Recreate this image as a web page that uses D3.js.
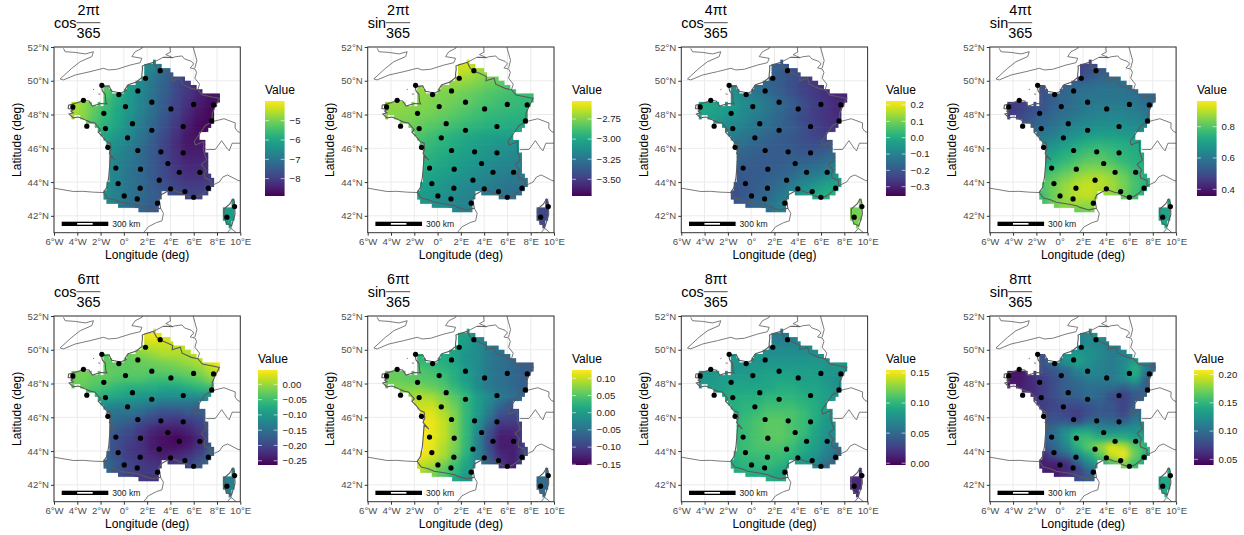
<!DOCTYPE html>
<html>
<head>
<meta charset="utf-8">
<script src="https://cdn.jsdelivr.net/npm/d3@7"></script>
<style>
  html, body { margin: 0; background: #fff; }
  text { font-family: "Liberation Sans", Arial, sans-serif; }
</style>
</head>
<body>
<svg id="chart" width="1244" height="535"></svg>
<script>
const titleFunc = ["cos", "sin", "cos", "sin", "cos", "sin", "cos", "sin"];
const titleNum = ["2πt", "2πt", "4πt", "4πt", "6πt", "6πt", "8πt", "8πt"];
const lonTicks = [-6, -4, -2, 0, 2, 4, 6, 8, 10];
const latTicks = [42, 44, 46, 48, 50, 52];

// value grid: 1 deg wide, 0.5 deg high cells, north to south
const rowTopLat = [51.5, 51, 50.5, 50, 49.5, 49, 48.5, 48, 47.5, 47, 46.5, 46, 45.5, 45, 44.5, 44, 43.5, 43, 42.5];
const rowWestLon = [2, 1, 1, -2, -2, -5, -5, -5, -3, -2, -2, -2, -2, -2, -2, -2, -2, -2, 1];

const cos2 = [
  [-6.5],
  [-6.4,-6.7,-7.2,-7.6],
  [-6.5,-6.9,-7.3,-7.7,-8.0],
  [-5.2,-5.7,-6.2,-6.6,-7.0,-7.4,-7.8,-8.1,-8.4],
  [-5.3,-5.8,-6.2,-6.6,-7.0,-7.4,-7.8,-8.1,-8.4,-8.6,-8.6],
  [-4.5,-4.8,-5.2,-5.5,-5.9,-6.3,-6.7,-7.1,-7.5,-7.9,-8.2,-8.5,-8.7,-8.7],
  [-4.5,-4.8,-5.2,-5.6,-6.0,-6.3,-6.7,-7.1,-7.5,-7.9,-8.3,-8.6,-8.8],
  [-4.6,-4.9,-5.3,-5.7,-6.0,-6.4,-6.8,-7.2,-7.6,-8.0,-8.4,-8.7,-8.8],
  [-5.5,-5.8,-6.1,-6.5,-6.9,-7.3,-7.7,-8.1,-8.5,-8.8,-8.8],
  [-6.0,-6.3,-6.6,-7.0,-7.4,-7.8,-8.2,-8.6,-8.7],
  [-6.2,-6.5,-6.8,-7.1,-7.5,-7.9,-8.3,-8.6,-8.6,-8.5],
  [-6.3,-6.6,-6.9,-7.2,-7.5,-7.9,-8.2,-8.5,-8.5,-8.4],
  [-6.4,-6.7,-6.9,-7.2,-7.5,-7.8,-8.2,-8.4,-8.4,-8.3],
  [-6.5,-6.7,-7.0,-7.2,-7.5,-7.8,-8.1,-8.3,-8.3,-8.2],
  [-6.5,-6.7,-7.0,-7.2,-7.5,-7.8,-8.0,-8.2,-8.2,-8.1],
  [-6.5,-6.8,-7.0,-7.2,-7.5,-7.7,-7.9,-8.0,-8.0,-7.9],
  [-6.5,-6.8,-7.0,-7.2,-7.4,-7.6,-7.8,-7.9,-7.9,-7.8],
  [-6.6,-6.9,-7.1,-7.3,-7.5],
  [-7.3,-7.5]
];
const sin2 = [
  [-2.58],
  [-2.62,-2.62,-2.68,-2.72],
  [-2.65,-2.68,-2.72,-2.76,-2.80],
  [-2.70,-2.72,-2.72,-2.72,-2.74,-2.77,-2.80,-2.83,-2.86],
  [-2.72,-2.74,-2.76,-2.77,-2.79,-2.82,-2.85,-2.87,-2.89,-2.90,-2.90],
  [-2.72,-2.72,-2.72,-2.74,-2.76,-2.77,-2.79,-2.81,-2.84,-2.87,-2.89,-2.91,-2.92,-2.92],
  [-2.72,-2.73,-2.74,-2.75,-2.77,-2.79,-2.82,-2.85,-2.88,-2.90,-2.92,-2.93,-2.94],
  [-2.74,-2.75,-2.76,-2.78,-2.80,-2.82,-2.85,-2.88,-2.91,-2.93,-2.95,-2.96,-2.96],
  [-2.79,-2.81,-2.84,-2.87,-2.90,-2.93,-2.95,-2.97,-2.98,-2.99,-3.00],
  [-2.86,-2.89,-2.92,-2.96,-2.99,-3.01,-3.03,-3.04,-3.05],
  [-2.89,-2.92,-2.96,-2.99,-3.02,-3.05,-3.07,-3.09,-3.10,-3.12],
  [-2.91,-2.95,-2.98,-3.01,-3.04,-3.07,-3.10,-3.12,-3.14,-3.15],
  [-2.94,-2.97,-3.00,-3.03,-3.06,-3.09,-3.12,-3.15,-3.17,-3.18],
  [-2.97,-3.00,-3.03,-3.06,-3.09,-3.12,-3.15,-3.18,-3.20,-3.21],
  [-3.00,-3.03,-3.06,-3.09,-3.12,-3.15,-3.18,-3.21,-3.23,-3.24],
  [-3.03,-3.06,-3.09,-3.12,-3.15,-3.18,-3.21,-3.24,-3.26,-3.27],
  [-3.06,-3.08,-3.11,-3.14,-3.17,-3.20,-3.23,-3.26,-3.28,-3.29],
  [-3.09,-3.11,-3.13,-3.16,-3.19],
  [-3.17,-3.19]
];
const cos4 = [
  [-.19],
  [-.17,-.19,-.21,-.23],
  [-.17,-.19,-.21,-.24,-.26],
  [-.07,-.10,-.14,-.17,-.19,-.21,-.24,-.26,-.28],
  [-.07,-.10,-.13,-.16,-.18,-.21,-.24,-.26,-.28,-.30,-.30],
  [-.01,-.02,-.03,-.05,-.08,-.10,-.13,-.16,-.19,-.22,-.25,-.27,-.29,-.30],
  [-.01,-.02,-.03,-.05,-.08,-.10,-.13,-.16,-.19,-.22,-.25,-.27,-.29],
  [-.02,-.03,-.05,-.07,-.09,-.12,-.14,-.17,-.20,-.23,-.25,-.27,-.28],
  [-.07,-.09,-.11,-.13,-.15,-.17,-.19,-.21,-.24,-.26,-.27],
  [-.11,-.13,-.15,-.17,-.19,-.20,-.22,-.24,-.25],
  [-.13,-.15,-.17,-.18,-.19,-.20,-.21,-.22,-.21,-.20],
  [-.15,-.17,-.18,-.19,-.19,-.19,-.20,-.20,-.18,-.16],
  [-.17,-.18,-.19,-.19,-.19,-.18,-.18,-.17,-.15,-.13],
  [-.19,-.19,-.19,-.19,-.18,-.17,-.15,-.14,-.12,-.10],
  [-.20,-.20,-.19,-.18,-.17,-.15,-.12,-.10,-.07,-.05],
  [-.21,-.20,-.19,-.17,-.15,-.12,-.08,-.05,-.02,-.01],
  [-.22,-.20,-.18,-.16,-.13,-.09,-.05,-.01,.01,.00],
  [-.20,-.18,-.16,-.14,-.11],
  [-.14,-.10]
];
const sin4 = [
  [.46],
  [.47,.50,.52,.55],
  [.49,.52,.54,.56,.57],
  [.50,.53,.54,.56,.57,.58,.58,.58,.57],
  [.51,.54,.56,.58,.59,.59,.59,.59,.58,.56,.55],
  [.46,.47,.49,.51,.54,.56,.58,.60,.60,.60,.60,.59,.57,.55],
  [.46,.47,.50,.52,.55,.57,.59,.61,.62,.62,.62,.61,.59],
  [.47,.49,.52,.55,.57,.59,.61,.63,.64,.64,.64,.63,.61],
  [.54,.57,.59,.62,.64,.65,.66,.66,.66,.65,.64],
  [.60,.62,.65,.67,.69,.70,.70,.69,.68],
  [.64,.66,.69,.72,.74,.75,.74,.73,.72,.71],
  [.68,.70,.73,.76,.78,.79,.77,.75,.73,.72],
  [.71,.73,.76,.79,.81,.81,.79,.76,.74,.72],
  [.75,.77,.80,.83,.85,.85,.83,.80,.76,.73],
  [.78,.81,.84,.87,.89,.89,.87,.83,.78,.74],
  [.80,.83,.87,.90,.91,.90,.88,.84,.79,.74],
  [.78,.83,.87,.90,.91,.88,.86,.82,.78,.72],
  [.77,.83,.86,.88,.87],
  [.82,.84]
];
const cos6 = [
  [.04],
  [.03,.04,.03,.025],
  [.01,.02,.02,.02,.02],
  [-.03,-.03,-.02,-.01,.00,.01,.01,.01,.02],
  [-.03,-.03,-.03,-.025,-.02,-.015,-.01,.00,.01,.03,.045],
  [-.02,-.02,-.02,-.025,-.03,-.03,-.03,-.03,-.03,-.025,-.02,-.01,.01,.03],
  [-.02,-.02,-.03,-.03,-.04,-.04,-.04,-.05,-.05,-.05,-.04,-.03,-.01],
  [-.03,-.03,-.04,-.05,-.06,-.07,-.07,-.07,-.08,-.08,-.07,-.06,-.05],
  [-.06,-.07,-.08,-.09,-.10,-.10,-.11,-.11,-.11,-.11,-.11],
  [-.11,-.12,-.12,-.13,-.14,-.15,-.15,-.15,-.16],
  [-.14,-.15,-.15,-.16,-.18,-.19,-.19,-.18,-.18,-.16],
  [-.15,-.16,-.17,-.19,-.20,-.21,-.22,-.21,-.20,-.17],
  [-.16,-.18,-.19,-.21,-.23,-.24,-.24,-.23,-.21,-.18],
  [-.17,-.19,-.20,-.22,-.24,-.25,-.26,-.25,-.23,-.19],
  [-.18,-.19,-.21,-.22,-.24,-.25,-.25,-.24,-.22,-.18],
  [-.17,-.19,-.21,-.22,-.23,-.24,-.23,-.22,-.20,-.16],
  [-.16,-.18,-.20,-.21,-.22,-.22,-.21,-.20,-.18,-.15],
  [-.16,-.19,-.20,-.21,-.21],
  [-.21,-.22]
];
const sin6 = [
  [.02],
  [.01,.00,-.03,-.04],
  [.01,.00,-.02,-.04,-.05],
  [.03,.03,.02,.01,-.01,-.02,-.04,-.05,-.06],
  [.03,.03,.02,.01,-.01,-.02,-.04,-.05,-.06,-.07,-.07],
  [.06,.06,.055,.05,.04,.03,.02,.00,-.02,-.04,-.05,-.06,-.07,-.07],
  [.06,.06,.055,.05,.05,.04,.02,.00,-.02,-.04,-.05,-.06,-.07],
  [.065,.07,.07,.07,.06,.05,.03,.01,-.02,-.04,-.05,-.06,-.07],
  [.08,.09,.085,.07,.05,.03,.00,-.02,-.04,-.05,-.06],
  [.10,.10,.08,.06,.03,.00,-.03,-.06,-.08],
  [.11,.11,.09,.07,.03,.00,-.04,-.08,-.09,-.08],
  [.12,.115,.10,.07,.03,-.01,-.06,-.10,-.10,-.09],
  [.122,.115,.10,.07,.03,-.02,-.08,-.12,-.12,-.10],
  [.122,.115,.10,.07,.03,-.03,-.09,-.13,-.13,-.10],
  [.122,.115,.09,.07,.03,-.03,-.09,-.13,-.13,-.10],
  [.12,.11,.09,.06,.02,-.03,-.08,-.12,-.13,-.09],
  [.10,.09,.07,.04,.01,-.03,-.07,-.11,-.13,-.08],
  [.09,.07,.05,.03,.00],
  [.01,-.01]
];
const cos8 = [
  [.06],
  [.06,.06,.06,.065],
  [.07,.07,.07,.07,.07],
  [.08,.08,.08,.075,.075,.075,.075,.075,.075],
  [.08,.08,.08,.08,.08,.08,.08,.08,.08,.08,.075],
  [.08,.08,.08,.08,.08,.085,.085,.085,.085,.085,.085,.08,.08,.075],
  [.08,.08,.085,.085,.085,.085,.09,.09,.09,.085,.085,.08,.075],
  [.08,.085,.085,.09,.09,.09,.09,.095,.095,.09,.09,.085,.075],
  [.09,.095,.095,.095,.10,.10,.10,.095,.09,.085,.075],
  [.095,.10,.10,.105,.105,.105,.10,.095,.085],
  [.095,.10,.105,.11,.11,.11,.105,.095,.085,.075],
  [.10,.105,.11,.115,.115,.11,.105,.095,.08,.075],
  [.10,.105,.11,.115,.115,.11,.105,.09,.08,.07],
  [.10,.105,.11,.115,.115,.11,.10,.09,.075,.065],
  [.10,.105,.11,.11,.11,.105,.095,.085,.07,.055],
  [.10,.105,.105,.105,.105,.10,.09,.08,.065,.05],
  [.095,.10,.10,.105,.10,.09,.08,.07,.055,.045],
  [.095,.095,.095,.095,.09],
  [.095,.09]
];
const sin8 = [
  [.12],
  [.11,.12,.12,.11],
  [.115,.12,.115,.11,.11],
  [.08,.10,.125,.13,.125,.12,.11,.115,.115],
  [.085,.10,.125,.135,.125,.115,.11,.12,.135,.11,.08],
  [.05,.05,.06,.08,.085,.095,.115,.12,.115,.11,.12,.145,.11,.085],
  [.05,.05,.06,.07,.08,.09,.10,.11,.11,.11,.12,.135,.09],
  [.055,.055,.06,.07,.08,.09,.095,.10,.10,.10,.09,.10,.09],
  [.06,.07,.08,.09,.09,.10,.095,.08,.07,.085,.095],
  [.07,.075,.08,.08,.085,.09,.085,.075,.09],
  [.075,.08,.075,.07,.08,.085,.085,.075,.095,.105],
  [.08,.085,.085,.075,.095,.10,.095,.09,.11,.115],
  [.09,.10,.12,.135,.135,.12,.12,.125,.125,.125],
  [.09,.10,.125,.155,.155,.145,.145,.145,.135,.14],
  [.08,.095,.115,.145,.165,.18,.20,.19,.165,.15],
  [.06,.08,.095,.12,.14,.165,.195,.205,.17,.145],
  [.055,.055,.06,.085,.12,.135,.16,.175,.155,.14],
  [.055,.05,.06,.07,.09],
  [.08,.09]
];
const grids = [cos2, sin2, cos4, sin4, cos6, sin6, cos8, sin8];

// Corsica is read separately, same value north and south on most panels
const corsicaValues = [-6.2, -3.45, .105, .71, -.13, -.055, .015, .14];

const legendDomains = [
  [-8.9, -3.98], [-3.708, -2.526], [-.357, .2245], [.357, .964],
  [-.264, .047], [-.152, .124], [-.003, .155], [.04, .208]
];
const legendTicks = [
  [-8, -7, -6, -5],
  [-3.5, -3.25, -3, -2.75],
  [-.3, -.2, -.1, 0, .1, .2],
  [.4, .6, .8],
  [-.25, -.2, -.15, -.1, -.05, 0],
  [-.15, -.1, -.05, 0, .05, .1],
  [0, .05, .1, .15],
  [.05, .1, .15, .2]
];
const legendFormats = ["d", ".2f", ".1f", ".1f", ".2f", ".2f", ".2f", ".2f"];

// land mask at 0.25 deg: [north edge, west, east]
const maskRuns = [
  [51.25,2.5,2.75],[51,1.75,3.25],[50.75,1.75,4],[50.5,1.75,4.25],[50.25,1.5,5.25],[50,1,5.75],
  [49.75,-1.75,-1.25],[49.75,.25,6.25],[49.5,-1.75,-1],[49.5,0,6.75],[49.25,-1.75,8.25],[49,-1.75,8.25],
  [48.75,-4.5,-2.75],[48.75,-2.25,-2],[48.75,-1.75,8],[48.5,-4.5,7.75],[48.25,-4.5,7.75],
  [48,-4.5,-4.25],[48,-3.75,7.75],[47.75,-3.25,7.75],[47.5,-2.5,7.5],[47.25,-2.25,7.25],[47,-2,6.5],
  [46.75,-1.75,6.5],[46.5,-1.5,7],[46.25,-1.25,7],[46,-1.25,7],[45.75,-1.25,7.25],[45.5,-1.25,7.25],
  [45.25,-1.25,7.25],[45,-1.25,7.25],[44.75,-1.25,7.25],[44.5,-1.25,7.5],[44.25,-1.25,7.75],
  [44,-1.5,7.75],[43.75,-1.5,7.5],[43.5,-1.75,3.25],[43.5,3.75,7.25],[43.25,-1.75,3.25],[43.25,5.25,6.75],
  [43,-1.5,3],[42.75,-.5,3],[42.5,1.25,3],
  [43,9.25,9.5],[42.75,9.25,9.5],[42.5,8.5,9.5],[42.25,8.5,9.5],[42,8.5,9.5],[41.75,8.75,9.25],[41.5,9,9.25]
];

// weather stations [lon, lat]
const stations = [
  [-1.89,49.73],[-3.47,48.84],[-4.38,48.45],[-3.18,47.31],[-1.72,48.07],[-1.58,47.17],[-1.38,46.06],
  [-.69,44.83],[-.49,43.91],[.03,43.18],[1.15,43],[2.89,42.75],[1.4,43.64],[1.43,44.76],[3.04,44.11],
  [4.01,43.6],[5.24,43.44],[5.99,43.1],[7.25,43.64],[6.53,44.58],[4.76,44.58],[3.78,45.1],[3.18,45.79],
  [5.1,45.73],[1.2,45.87],[.32,46.62],[2.4,47.07],[.74,47.46],[.14,48.47],[-.43,49.18],[1.2,49.4],
  [1.86,50.15],[3.12,50.6],[2.4,48.73],[4.04,48.33],[5.99,48.6],[7.7,48.57],[7.54,47.62],[5.1,47.29],
  [9.51,42.55],[8.85,41.92]
];

// map outlines [lon, lat]
const franceLine = [
  [2.55,51.09],[1.85,50.95],[1.58,50.87],[1.6,50.7],[1.55,50.4],[1.55,50.2],[1.08,49.93],[.37,49.77],[.1,49.5],
  [.2,49.42],[-.25,49.28],[-1.05,49.38],[-1.27,49.7],[-1.6,49.65],[-1.93,49.72],[-1.85,49.4],[-1.6,49.2],
  [-1.55,48.75],[-1.45,48.63],[-2,48.65],[-2.7,48.5],[-3,48.8],[-3.5,48.83],[-4,48.7],[-4.75,48.55],[-4.78,48.35],
  [-4.3,48.3],[-4.55,48.2],[-4.35,48.1],[-4.7,48.03],[-4.35,47.8],[-3.9,47.85],[-3.4,47.7],[-2.9,47.55],[-2.5,47.5],
  [-2.2,47.25],[-2,47.1],[-2.2,46.95],[-1.85,46.7],[-1.5,46.4],[-1.15,46.3],[-1.1,45.95],[-1.25,45.7],[-.75,45.3],
  [-1.15,45.55],[-1.25,44.7],[-1.3,44.3],[-1.45,43.7],[-1.75,43.38],[-1.4,43.05],[-.8,42.95],[-.3,42.8],[.7,42.7],
  [1.45,42.6],[1.75,42.5],[2.5,42.35],[3.15,42.45],[3.03,43],[3.2,43.25],[3.75,43.45],[4.1,43.55],[4.7,43.4],
  [5.05,43.35],[5.35,43.2],[5.95,43.08],[6.4,43.15],[6.9,43.4],[7.25,43.65],[7.5,43.78],[7.5,44.1],[6.95,44.25],
  [6.9,44.5],[7.05,44.7],[6.65,45.05],[7.1,45.3],[6.85,45.85],[6.85,46.4],[6.15,46.2],[6.05,46.4],[6.45,46.8],
  [7,47.35],[7.55,47.55],[7.6,48.1],[8.2,48.95],[7.5,49.05],[6.75,49.15],[6.35,49.47],[5.8,49.55],[5,49.8],
  [4.85,50.15],[4.15,50],[4.2,50.25],[3.6,50.45],[3.2,50.55],[2.8,50.75],[2.55,51.09]
];
const corsicaLine = [[9.4,43],[9.5,42.8],[9.55,42.1],[9.25,41.4],[8.8,41.55],[8.6,42],[8.6,42.4],[9.1,42.7],[9.35,43],[9.4,43]];
const neighbourLines = [
  // Wales and south England
  [[-5.19,51.92],[-5.04,51.72],[-4.18,51.68],[-3.32,51.59],[-2.61,51.72],[-2.75,51.43],[-3.75,51.13],[-4.47,50.74],
   [-5.47,50.11],[-5.19,50.05],[-4.18,50.34],[-2.9,50.54],[-1.75,50.74],[-1.32,50.64],[-.6,50.68],[.54,50.93],
   [1.4,51.07],[1.55,51.33],[.69,51.43],[.97,51.72],[1.55,51.92],[1.63,52.05]],
  // Belgium and Netherlands coast
  [[2.55,51.09],[3.35,51.38],[3.5,51.4],[4.2,51.37],[3.6,51.55],[4,51.7],[3.95,52.05]],
  [[3.35,51.38],[4.2,51.37],[4.4,51.42],[5,51.47],[5.2,51.3],[5.8,51.15],[6,51],[5.7,50.76],[6.1,50.7],[6.25,50.5],
   [6.1,50.15],[6.5,49.8],[6.35,49.47]],
  [[5.93,52.05],[6.27,51.2],[6.1,50.75]],
  // Rhine, Switzerland and Italy
  [[7.55,47.57],[8.6,47.75],[9.57,47.5],[9.55,47.2],[9.77,47],[10.1,46.9]],
  [[7.05,45.92],[7.85,45.93],[8.4,46.45],[8.85,46],[9.05,45.85],[9.3,46.3],[10.1,46.3]],
  [[7.5,43.78],[8.2,44],[8.5,44.3],[8.9,44.42],[9.8,44.1],[10.1,44.05]],
  [[8.15,40.9],[8.45,41],[8.8,40.93],[9.2,41.25],[9.5,41.1],[9.75,40.9]],
  // Spain
  [[-6.1,43.65],[-4.33,43.44],[-3.5,43.45],[-2.6,43.4],[-1.75,43.38]],
  [[3.15,42.45],[3.4,42.15],[3.27,41.7],[2.8,41.6],[2.1,41.35],[1.7,41],[1.6,40.9]],
  // small islands
  [[-2.65,49.47],[-2.55,49.5]],[[-2.2,49.22],[-2.02,49.2]],[[-1.55,46.22],[-1.3,46.15]],[[-1.4,46],[-1.2,45.83]]
];

const svg = d3.select("#chart");
const panelLefts = [54, 367.7, 681.3, 989.8];
const legendLefts = [[265, 572, 886, 1197], [258, 572, 886, 1194]];
const rowOffset = 269;
const panelW = 186.3;
const panelH = 185.7;
const panelTop = 47;

function drawPanel(i) {
  const col = i % 4;
  const row = Math.floor(i / 4);
  const left = panelLefts[col];
  const top = panelTop + row * rowOffset;

  const g = svg.append("g").attr("transform", `translate(${left},${top})`);
  const x = d3.scaleLinear().domain([-6, 10]).range([0, panelW]);
  const y = d3.scaleLinear().domain([41, 52]).range([panelH, 0]);
  const color = d3.scaleSequential(d3.interpolateViridis).domain(legendDomains[i]);

  const defs = g.append("defs");
  defs.append("clipPath").attr("id", `panel${i}`)
    .append("rect").attr("width", panelW).attr("height", panelH);
  // rows overlap a little so the clip leaves no seams
  defs.append("clipPath").attr("id", `land${i}`)
    .selectAll("rect").data(maskRuns).join("rect")
    .attr("x", d => x(d[1]))
    .attr("y", d => y(d[0]))
    .attr("width", d => x(d[2]) - x(d[1]))
    .attr("height", d => y(d[0] - .25) - y(d[0]) + .7);
  const filter = defs.append("filter").attr("id", `soft${i}`)
    .attr("filterUnits", "userSpaceOnUse")
    .attr("x", -20).attr("y", -20).attr("width", panelW + 40).attr("height", panelH + 40)
    .attr("color-interpolation-filters", "sRGB");
  filter.append("feGaussianBlur").attr("stdDeviation", 3.2);

  // grid lines
  g.append("g").selectAll("line").data(lonTicks).join("line")
    .attr("x1", d => x(d)).attr("x2", d => x(d)).attr("y1", 0).attr("y2", panelH)
    .attr("stroke", "#ebebeb").attr("stroke-width", 1);
  g.append("g").selectAll("line").data(latTicks).join("line")
    .attr("x1", 0).attr("x2", panelW).attr("y1", d => y(d)).attr("y2", d => y(d))
    .attr("stroke", "#ebebeb").attr("stroke-width", 1);

  // flatten the value rows into cells
  const cells = [];
  grids[i].forEach((values, r) => {
    values.forEach((v, c) => {
      cells.push({ lon: rowWestLon[r] + c, lat: rowTopLat[r], w: 1, h: .5, v });
    });
  });
  cells.push({ lon: 8.4, lat: 43.1, w: 1.3, h: 1.8, v: corsicaValues[i] });

  const raster = g.append("g").attr("clip-path", `url(#land${i})`);
  const drawCells = sel => sel.selectAll("rect").data(cells).join("rect")
    .attr("x", d => x(d.lon))
    .attr("y", d => y(d.lat))
    .attr("width", d => x(d.lon + d.w) - x(d.lon))
    .attr("height", d => y(d.lat - d.h) - y(d.lat))
    .attr("fill", d => color(d.v))
    .attr("stroke", d => color(d.v))
    .attr("stroke-width", .5);
  raster.append("g").call(drawCells);
  raster.append("g").attr("filter", `url(#soft${i})`).call(drawCells);

  // map lines
  const line = d3.line().x(d => x(d[0])).y(d => y(d[1]));
  const maps = g.append("g").attr("clip-path", `url(#panel${i})`);
  maps.selectAll("path.other").data(neighbourLines).join("path")
    .attr("class", "other")
    .attr("d", line)
    .attr("fill", "none").attr("stroke", "#5a5a5a").attr("stroke-width", .8);
  maps.selectAll("path.fr").data([franceLine, corsicaLine]).join("path")
    .attr("class", "fr")
    .attr("d", line)
    .attr("fill", "none").attr("stroke", "#5a5a5a").attr("stroke-width", 1.1);

  // stations
  g.append("g").selectAll("circle").data(stations).join("circle")
    .attr("cx", d => x(d[0]))
    .attr("cy", d => y(d[1]))
    .attr("r", 2.6)
    .attr("fill", "#000");

  // scale bar
  const bar = g.append("g").attr("transform", `translate(7.7,${panelH - 11})`);
  bar.append("rect").attr("width", 46.6).attr("height", 4.3).attr("fill", "#000");
  bar.append("rect").attr("x", 15.5).attr("y", 1.3).attr("width", 15.5).attr("height", 1.7).attr("fill", "#fff");
  bar.append("text").attr("x", 50.6).attr("y", 5.2)
    .attr("font-size", 8.6).attr("fill", "#1a1a1a").text("300 km");

  // panel border
  g.append("rect").attr("width", panelW).attr("height", panelH)
    .attr("fill", "none").attr("stroke", "#333").attr("stroke-width", 1);

  // axes
  const fmtLon = d => d === 0 ? "0°" : d < 0 ? `${-d}°W` : `${d}°E`;
  const xAxis = g.append("g").attr("transform", `translate(0,${panelH})`)
    .call(d3.axisBottom(x).tickValues(lonTicks).tickFormat(fmtLon).tickSize(3).tickPadding(2));
  const yAxis = g.append("g")
    .call(d3.axisLeft(y).tickValues(latTicks).tickFormat(d => `${d}°N`).tickSize(3).tickPadding(2));
  [xAxis, yAxis].forEach(a => {
    a.select(".domain").remove();
    a.selectAll("line").attr("stroke", "#333");
    a.selectAll("text").attr("fill", "#4d4d4d").attr("font-size", 9.6)
      .attr("font-family", '"Liberation Sans", Arial, sans-serif');
  });

  g.append("text")
    .attr("x", panelW / 2).attr("y", panelH + 26.5)
    .attr("text-anchor", "middle").attr("font-size", 12).attr("fill", "#000")
    .text("Longitude (deg)");
  g.append("text")
    .attr("transform", `translate(-33.5,${panelH / 2}) rotate(-90)`)
    .attr("text-anchor", "middle").attr("font-size", 12).attr("fill", "#000")
    .text("Latitude (deg)");

  // title: function name and fraction, the rule starts where the name ends
  const funcW = titleFunc[i] === "cos" ? 22.4 : 18.4;
  const title = g.append("g").attr("font-size", 14.4).attr("fill", "#000");
  title.append("text").attr("x", 0).attr("y", -19.5).text(titleFunc[i]);
  title.append("text").attr("x", funcW + 12).attr("y", -32).attr("text-anchor", "middle").text(titleNum[i]);
  title.append("text").attr("x", funcW + 12).attr("y", -9.3).attr("text-anchor", "middle").text("365");
  g.append("line").attr("x1", funcW).attr("x2", funcW + 24)
    .attr("y1", -24.3).attr("y2", -24.3).attr("stroke", "#000").attr("stroke-width", .7);

  drawLegend(i, legendLefts[row][col], 101 + row * rowOffset, color);
}

function drawLegend(i, left, top, color) {
  const barW = 19.6;
  const barH = 95;
  const g = svg.append("g").attr("transform", `translate(${left},${top})`);
  const scale = d3.scaleLinear().domain(legendDomains[i]).range([barH, 0]);

  const grad = g.append("defs").append("linearGradient").attr("id", `ramp${i}`)
    .attr("x1", 0).attr("x2", 0).attr("y1", 1).attr("y2", 0);
  d3.range(0, 1.0001, .05).forEach(t => {
    grad.append("stop").attr("offset", t).attr("stop-color", d3.interpolateViridis(t));
  });
  g.append("rect").attr("width", barW).attr("height", barH).attr("fill", `url(#ramp${i})`);

  g.append("text").attr("x", 0).attr("y", -7).attr("font-size", 12).attr("fill", "#000").text("Value");

  const fmt = d3.format(legendFormats[i]);
  const ticks = g.selectAll("g.tick").data(legendTicks[i]).join("g")
    .attr("class", "tick")
    .attr("transform", d => `translate(0,${scale(d)})`);
  ticks.append("line").attr("x1", 0).attr("x2", barW / 5)
    .attr("stroke", "#fff").attr("stroke-width", .6);
  ticks.append("line").attr("x1", barW * .8).attr("x2", barW)
    .attr("stroke", "#fff").attr("stroke-width", .6);
  ticks.append("text")
    .attr("x", barW + 5).attr("dy", "0.35em")
    .attr("font-size", 9.6).attr("fill", "#1a1a1a")
    .text(d => fmt(d).replace("-", "−"));
}

d3.range(8).forEach(drawPanel);
</script>
</body>
</html>
